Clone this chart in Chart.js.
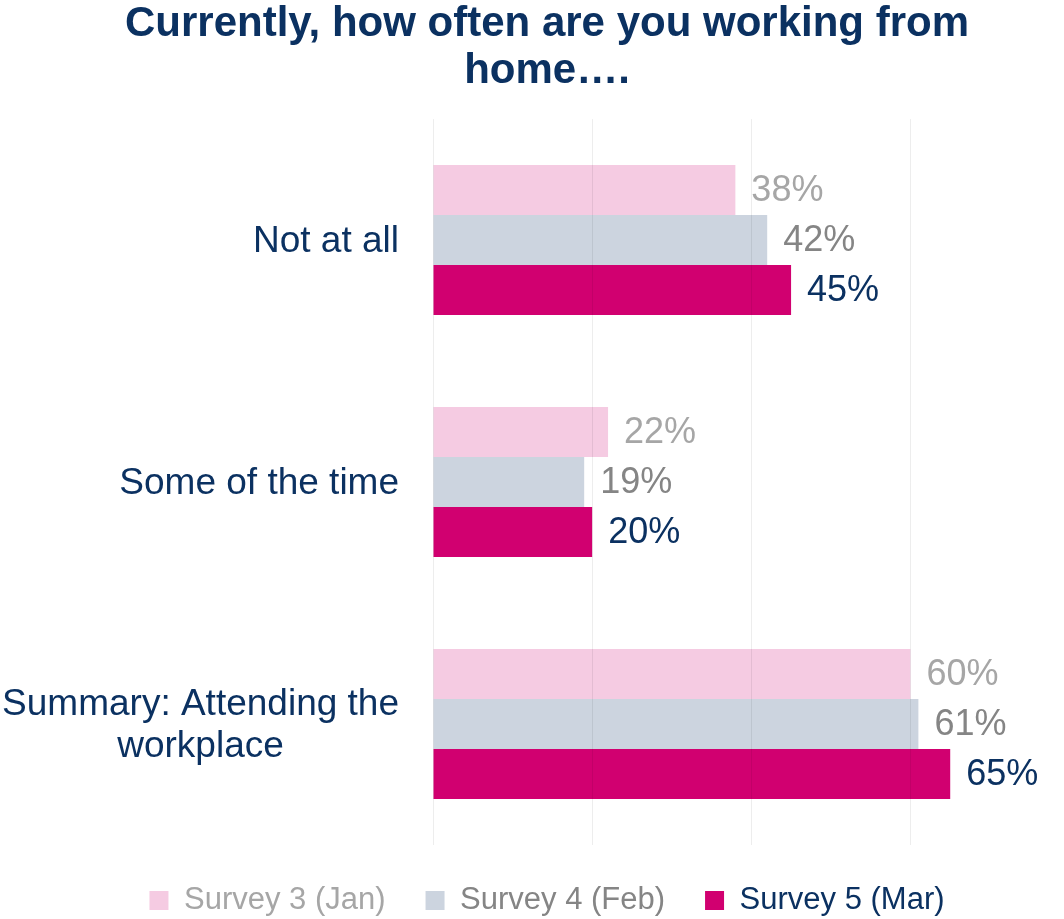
<!DOCTYPE html>
<html>
<head>
<meta charset="utf-8">
<script src="https://cdn.jsdelivr.net/npm/chart.js@4"></script>
<style>
  html, body { margin: 0; padding: 0; background: #ffffff; }
  #wrap { width: 1064px; height: 919px; }
</style>
</head>
<body>
<div id="wrap"><canvas id="c" width="1064" height="919"></canvas></div>
<script>
const categories = ['Not at all', 'Some of the time', ['Summary: Attending the', 'workplace']];
const seriesNames = ['Survey 3 (Jan)', 'Survey 4 (Feb)', 'Survey 5 (Mar)'];
const survey3 = [38, 22, 60];
const survey4 = [42, 19, 61];
const survey5 = [45, 20, 65];
const xTickValues = [0, 20, 40, 60];
const titleLines = ['Currently, how often are you working from', 'home….'];

const barColors = ['#F5CBE2', '#CCD4DF', '#D10070'];
const textColors = ['#A6A6A6', '#858585', '#0B3161'];
const navy = '#0B3161';
const FONT = "'Liberation Sans', Arial, sans-serif";

const valueLabels = {
  id: 'valueLabels',
  afterDatasetsDraw(chart) {
    const ctx = chart.ctx;
    ctx.save();
    ctx.font = '36px ' + FONT;
    ctx.textAlign = 'left';
    ctx.textBaseline = 'middle';
    chart.data.datasets.forEach((ds, i) => {
      const meta = chart.getDatasetMeta(i);
      ctx.fillStyle = textColors[i];
      meta.data.forEach((bar, j) => {
        ctx.fillText(ds.data[j] + '%', bar.x + 16, bar.y + 1);
      });
    });
    ctx.restore();
  }
};

// Category labels: block right-aligned to the axis, lines centred within the block
const categoryLabels = {
  id: 'categoryLabels',
  afterDraw(chart) {
    const ctx = chart.ctx;
    const yScale = chart.scales.y;
    const rightEdge = chart.chartArea.left - 34;
    const lineH = 42;
    ctx.save();
    ctx.font = '37px ' + FONT;
    ctx.fillStyle = navy;
    ctx.textAlign = 'center';
    ctx.textBaseline = 'middle';
    chart.data.labels.forEach((lab, i) => {
      const lines = Array.isArray(lab) ? lab : [lab];
      const widest = Math.max(...lines.map(l => ctx.measureText(l).width));
      const cx = rightEdge - widest / 2;
      const cy = yScale.getPixelForValue(i) + 1.5;
      lines.forEach((l, k) => {
        ctx.fillText(l, cx, cy + (k - (lines.length - 1) / 2) * lineH);
      });
    });
    ctx.restore();
  }
};

new Chart(document.getElementById('c'), {
  type: 'bar',
  data: {
    labels: categories,
    datasets: [
      { label: seriesNames[0], data: survey3, backgroundColor: barColors[0] },
      { label: seriesNames[1], data: survey4, backgroundColor: barColors[1] },
      { label: seriesNames[2], data: survey5, backgroundColor: barColors[2] }
    ]
  },
  options: {
    indexAxis: 'y',
    responsive: false,
    animation: false,
    devicePixelRatio: 1,
    layout: { padding: { left: 0, right: -30, top: 0, bottom: 0 } },
    datasets: { bar: { categoryPercentage: 0.62, barPercentage: 1.0, borderWidth: 0 } },
    scales: {
      x: {
        min: 0,
        max: 79.3,
        afterBuildTicks(scale) {
          scale.ticks = xTickValues.map(v => ({ value: v }));
        },
        afterFit(scale) { scale.height = 0; },
        ticks: { display: false },
        grid: { color: 'rgba(0,0,0,0.07)', lineWidth: 1, drawTicks: false, z: 1 },
        border: { display: false }
      },
      y: {
        afterFit(scale) { scale.width = 433; },
        ticks: { display: false },
        grid: { display: false, drawTicks: false },
        border: { display: false }
      }
    },
    plugins: {
      title: {
        display: true,
        text: titleLines,
        color: navy,
        font: { family: FONT, size: 42, weight: 'bold', lineHeight: 1.12 },
        padding: { top: 1, bottom: 24 }
      },
      legend: {
        position: 'bottom',
        maxHeight: 74,
        labels: {
          boxWidth: 19,
          boxHeight: 19,
          padding: 40,
          font: { family: FONT, size: 31 },
          generateLabels(chart) {
            return chart.data.datasets.map((ds, i) => ({
              text: ds.label,
              fillStyle: barColors[i],
              strokeStyle: barColors[i],
              lineWidth: 0,
              fontColor: textColors[i],
              hidden: false,
              datasetIndex: i
            }));
          }
        }
      },
      tooltip: { enabled: false }
    }
  },
  plugins: [valueLabels, categoryLabels]
});
</script>
</body>
</html>
